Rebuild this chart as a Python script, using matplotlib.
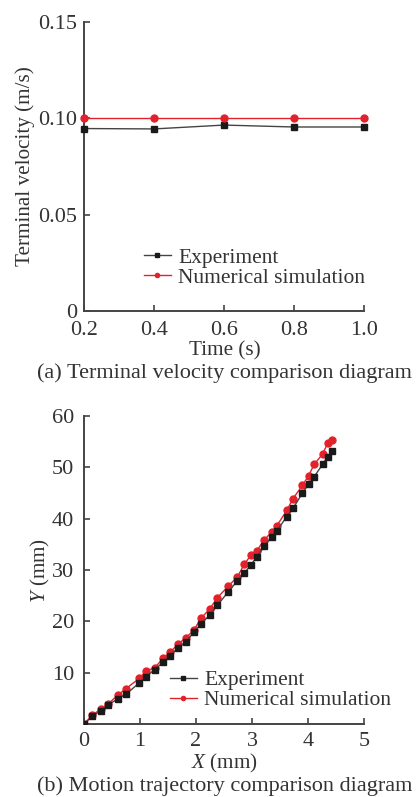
import matplotlib
matplotlib.use("Agg")
import matplotlib.pyplot as plt

plt.rcParams['font.family'] = ['Liberation Serif', 'DejaVu Serif']
plt.rcParams['mathtext.fontset'] = 'custom'
plt.rcParams['mathtext.rm'] = 'Liberation Serif'
plt.rcParams['mathtext.it'] = 'Liberation Serif:italic'

# (a) terminal velocity ------------------------------------------------------
time_s = [0.2, 0.4, 0.6, 0.8, 1.0]
vel_exp = [0.0947, 0.0945, 0.0965, 0.0955, 0.0955]
vel_sim = [0.100, 0.100, 0.100, 0.100, 0.100]

# (b) motion trajectory ------------------------------------------------------
x_sim = [0, 0.15, 0.30, 0.43, 0.60, 0.75, 0.99, 1.11, 1.26, 1.41, 1.54, 1.68,
         1.82, 1.96, 2.09, 2.25, 2.38, 2.57, 2.74, 2.86, 2.98, 3.08, 3.22,
         3.35, 3.44, 3.62, 3.73, 3.90, 4.01, 4.11, 4.26, 4.35, 4.43]
y_sim = [0, 1.75, 2.9, 3.9, 5.6, 6.9, 8.9, 10.4, 10.9, 12.8, 14.0, 15.6,
         16.8, 18.3, 20.6, 22.5, 24.6, 26.8, 28.7, 31.1, 32.9, 33.7, 35.9,
         37.4, 38.6, 41.6, 43.9, 46.5, 48.4, 50.6, 52.6, 54.7, 55.3]
x_exp = [0, 0.15, 0.30, 0.43, 0.60, 0.75, 0.99, 1.11, 1.26, 1.41, 1.54, 1.68,
         1.82, 1.96, 2.09, 2.25, 2.38, 2.57, 2.74, 2.86, 2.98, 3.08, 3.22,
         3.35, 3.44, 3.62, 3.73, 3.90, 4.01, 4.11, 4.26, 4.35, 4.43]
y_exp = [0, 1.5, 2.6, 3.7, 4.9, 5.8, 8.05, 9.2, 10.6, 12.0, 13.3, 14.9,
         16.0, 17.9, 19.5, 21.3, 23.1, 25.7, 27.9, 29.4, 31.0, 32.5, 34.6,
         36.4, 37.6, 40.4, 42.0, 45.0, 46.7, 48.2, 50.6, 52.1, 53.1]

RED = '#e3212b'
BLK = '#1a1a1a'
TXT = '#333333'
FS_TICK = 16
FS_LAB = 15.2
FS_LEG = 15.5
FS_CAP = 16

fig = plt.figure(figsize=(4.18, 7.97), dpi=100)
ax1 = fig.add_axes([0.201, 0.6098, 0.67, 0.3626])
ax2 = fig.add_axes([0.201, 0.0916, 0.67, 0.3864])


def style(ax):
    for s in ('top', 'right'):
        ax.spines[s].set_visible(False)
    for s in ('left', 'bottom'):
        ax.spines[s].set_color('#444444')
        ax.spines[s].set_linewidth(1.4)
    ax.tick_params(direction='in', length=4, width=1.2, colors='#444444',
                   labelcolor=TXT, labelsize=FS_TICK)
    ax.tick_params(axis='x', pad=6)
    ax.tick_params(axis='y', pad=5)


def legend(ax, x, y):
    ax.legend(loc='center left', bbox_to_anchor=(x, y), frameon=False,
              fontsize=FS_LEG, markerscale=0.6, handlelength=1.25,
              handletextpad=0.33, labelspacing=0.0, borderpad=0,
              borderaxespad=0, labelcolor=TXT)


# panel a
ax1.plot(time_s, vel_exp, color='#444444', lw=1.0, marker='s', ms=4.5,
         mfc=BLK, mec=BLK, label='Experiment', clip_on=False, zorder=3)
ax1.plot(time_s, vel_sim, color=RED, lw=1.0, marker='o', ms=5,
         mfc=RED, mec=RED, label='Numerical simulation', clip_on=False, zorder=4)
ax1.set_xlim(0.2, 1.0)
ax1.set_ylim(0, 0.15)
ax1.set_xticks([0.2, 0.4, 0.6, 0.8, 1.0])
ax1.set_xticklabels(['0.2', '0.4', '0.6', '0.8', '1.0'])
ax1.set_yticks([0, 0.05, 0.10, 0.15])
ax1.set_yticklabels(['0', '0.05', '0.10', '0.15'])
style(ax1)
ax1.tick_params(axis='x', pad=7.5)
ax1.set_ylabel('Terminal velocity (m/s)', fontsize=FS_LAB, color=TXT, va='center')
ax1.yaxis.set_label_coords(-0.212, 0.5)
ax1.set_xlabel('Time (s)', fontsize=FS_LAB, color=TXT, va='center')
ax1.xaxis.set_label_coords(0.503, -0.137)
legend(ax1, 0.214, 0.149)
fig.text(0.537, 1 - 373 / 797, '(a) Terminal velocity comparison diagram',
         ha='center', va='center', fontsize=FS_CAP, color=TXT)

# panel b
ax2.plot(x_exp, y_exp, color='#444444', lw=1.0, marker='s', ms=4.3,
         mfc=BLK, mec=BLK, label='Experiment', zorder=3)
ax2.plot(x_sim, y_sim, color=RED, lw=1.0, marker='o', ms=5,
         mfc=RED, mec=RED, label='Numerical simulation', zorder=2)
ax2.set_xlim(0, 5)
ax2.set_ylim(0, 60)
ax2.set_xticks([0, 1, 2, 3, 4, 5])
ax2.set_yticks([10, 20, 30, 40, 50, 60])
style(ax2)
ax2.tick_params(axis='y', pad=7)
ax2.set_ylabel(r'$\mathit{Y}$ (mm)', fontsize=FS_LAB, color=TXT, va='center')
ax2.yaxis.set_label_coords(-0.155, 0.5)
ax2.set_xlabel(r'$\mathit{X}$ (mm)', fontsize=FS_LAB, color=TXT, va='center')
ax2.xaxis.set_label_coords(0.5, -0.127)
legend(ax2, 0.307, 0.110)
fig.text(0.537, 1 - 786 / 797, '(b) Motion trajectory comparison diagram',
         ha='center', va='center', fontsize=FS_CAP, color=TXT)

fig.savefig('out.png', dpi=100)
